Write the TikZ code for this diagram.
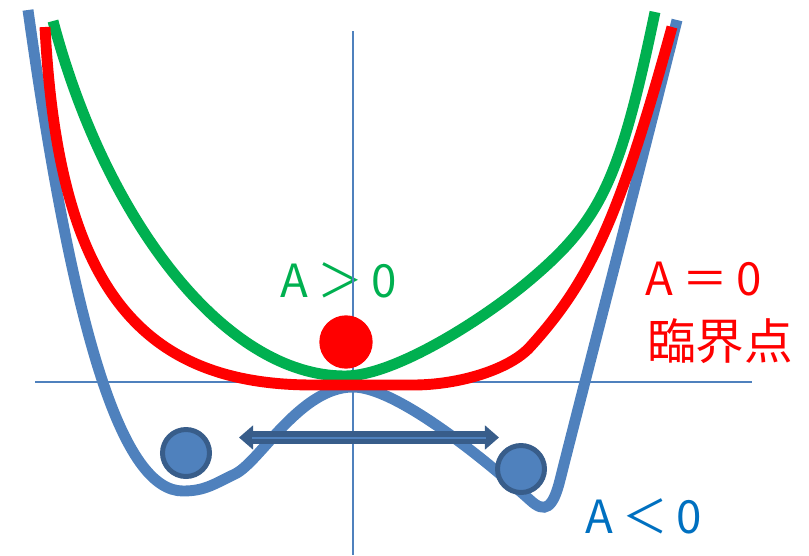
\documentclass[tikz,border=0pt]{standalone}
\usepackage{fontspec}
\newfontfamily\jpfont{Noto Sans CJK JP}
\newfontfamily\jpspaced[LetterSpace=20]{Noto Sans CJK JP}
\usetikzlibrary{arrows.meta}
\definecolor{wellblue}{HTML}{4F81BD}
\definecolor{ballrim}{HTML}{385D8A}
\definecolor{critgreen}{HTML}{00B050}
\definecolor{labelblue}{HTML}{0070C0}
\tikzset{
  axis/.style={line width=1.7pt,draw=wellblue},
  curve/.style={line width=9.3pt},
  ball/.style={circle,draw=ballrim,line width=4.25pt,fill=wellblue,minimum size=1.41cm,inner sep=0},
  redball/.style={circle,fill=red,minimum size=1.6cm,inner sep=0},
  % the swing between the two wells: a fat double arrow with a light core line
  swing/.style={line width=11pt,draw=ballrim,{Triangle[length=12pt,width=20pt]}-{Triangle[length=12pt,width=20pt]}},
  swingcore/.style={line width=1.7pt,draw=wellblue,shorten <=11pt,shorten >=11pt},
  lab/.style={inner sep=0,anchor=base west,font=\jpspaced\fontsize{39pt}{39pt}\selectfont},
}

\begin{document}
\begin{tikzpicture}[x=0.03cm,y=-0.03cm]
  \useasboundingbox (0,0) rectangle (809,555);
  \node[lab,text=critgreen] (pos) at (280,297) {A＞0};
  \node[lab,text=red] (zero) at (645,295) {A＝0};
  \node[lab,text=red,font=\jpfont\fontsize{41.5pt}{41.5pt}\selectfont] (crit) at (647,359) {臨界点};
  \node[lab,text=labelblue] (neg) at (585,533) {A＜0};
  % axes
  \coordinate (xl) at (35,381.5); \coordinate (xr) at (752,381.5);
  \coordinate (yt) at (353,31); \coordinate (yb) at (353,555);
  \draw[axis] (xl) -- (xr);
  \draw[axis] (yt) -- (yb);
  % A<0: double well
  \draw[curve,wellblue] (28,10) .. controls (74,340) and (123,491) .. (183,491)
    .. controls (205,491) and (214,484) .. (235,474)
    .. controls (260,462) and (300,387) .. (353,387)
    .. controls (395,387) and (480,455) .. (530,500)
    .. controls (545,514) and (553,508) .. (560,480)
    .. controls (575,420) and (660,90) .. (677,20);
  % A>0
  \draw[curve,critgreen] (53,21) .. controls (106,221) and (225,376) .. (345,376)
    .. controls (395,376) and (485,318) .. (530,280)
    .. controls (601,220) and (620,180) .. (655,12);
  % A=0
  \draw[curve,red] (45,27) .. controls (58,280) and (135,385) .. (313,385) -- (413,385)
    .. controls (460,385) and (510,369) .. (530,347)
    .. controls (591,280) and (620,216) .. (672,27);
  \node[redball] (top) at (346,342) {};
  \node[ball] (left) at (186,453) {};
  \node[ball] (right) at (521,469) {};
  \coordinate (arrL) at (239,437.5); \coordinate (arrR) at (499,437.5);
  \draw[swing] (arrL) -- (arrR);
  \draw[swingcore] (arrL) -- (arrR);
\end{tikzpicture}
\end{document}
